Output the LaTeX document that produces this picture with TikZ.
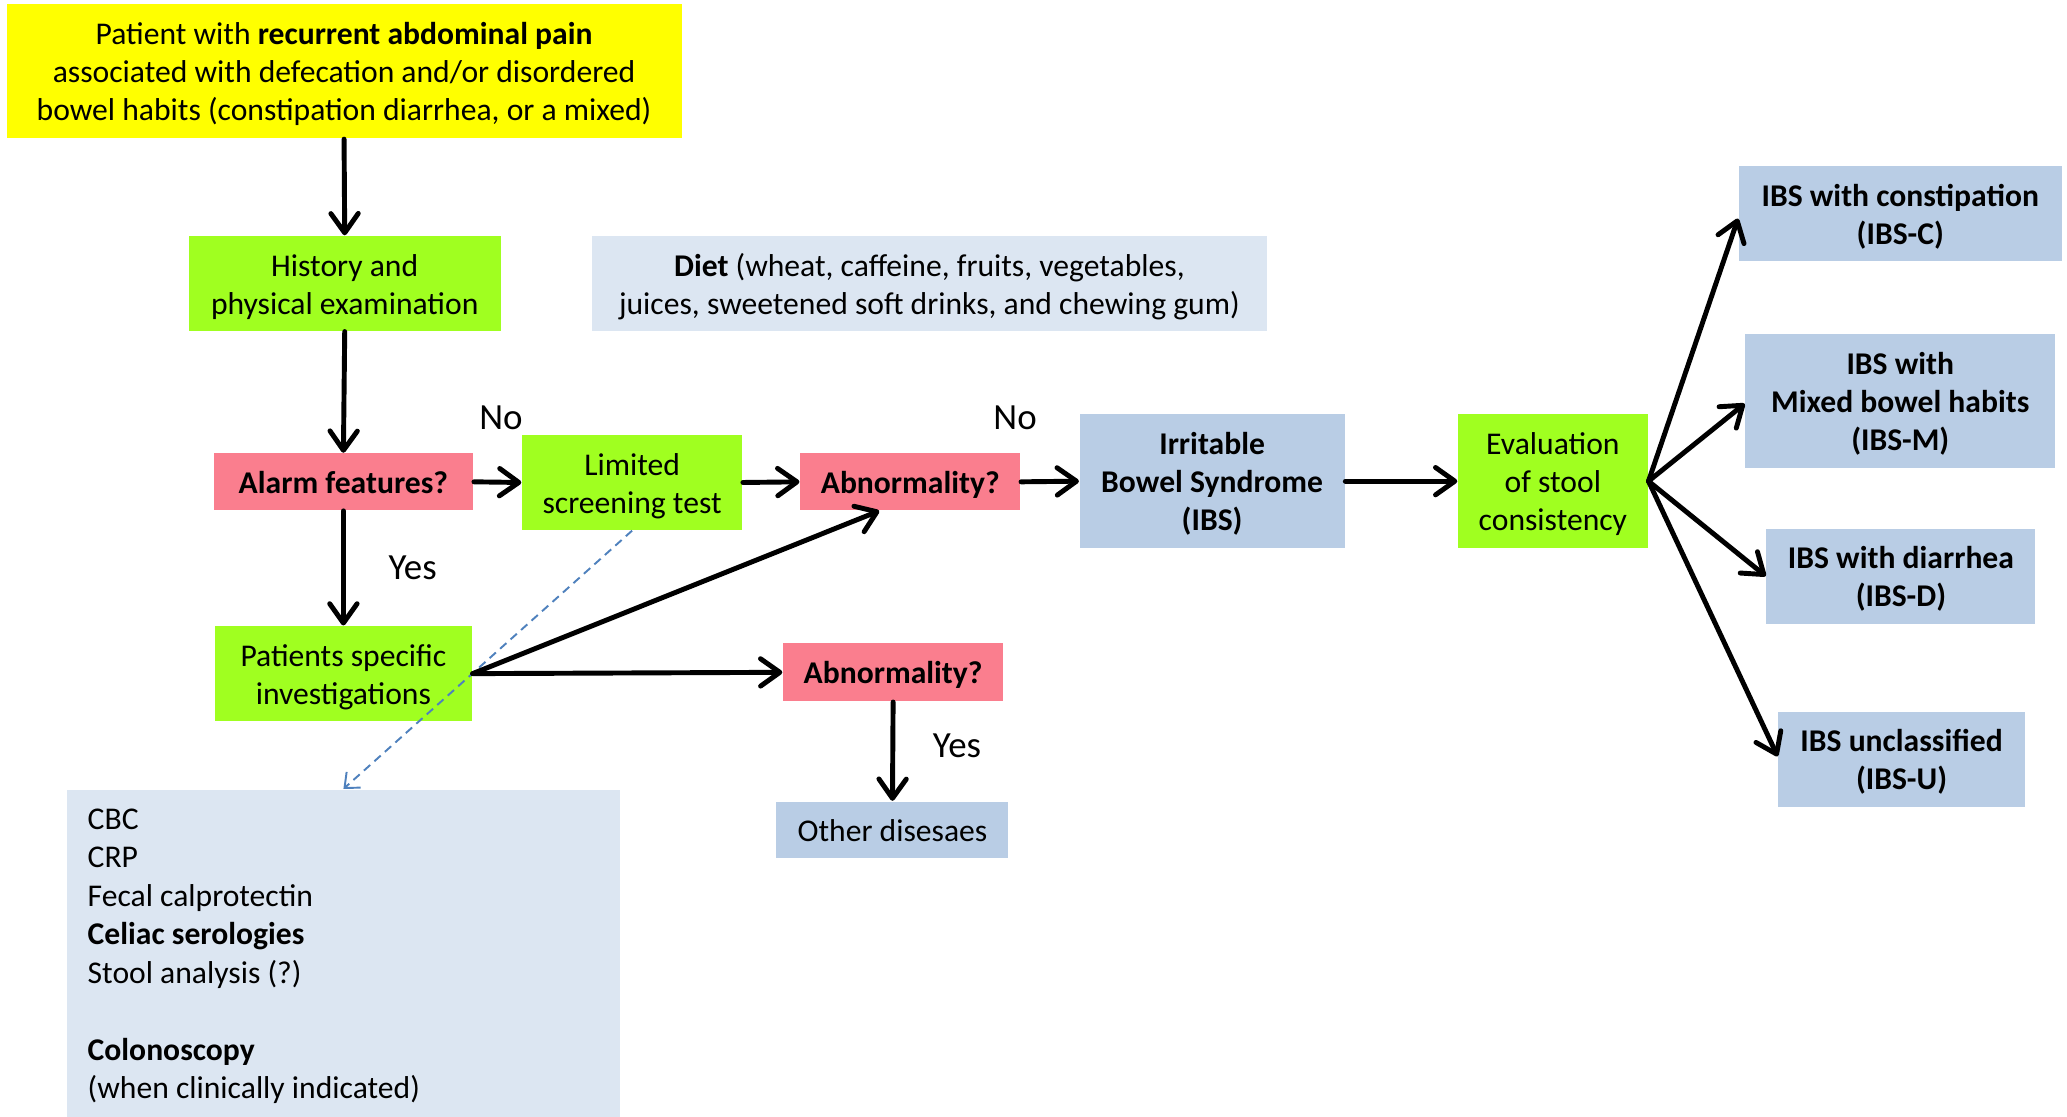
\documentclass[tikz,border=0pt]{standalone}
\usepackage{fontspec}
\setmainfont{Carlito}
\usetikzlibrary{arrows.meta}
\definecolor{yel}{RGB}{255,255,0}
\definecolor{grn}{RGB}{160,255,32}
\definecolor{pnk}{RGB}{250,126,142}
\definecolor{lblue}{RGB}{185,205,229}
\definecolor{pblue}{RGB}{220,230,242}
\definecolor{dashblue}{RGB}{79,129,189}
\begin{document}
\begin{tikzpicture}[x=0.013183cm, y=-0.013183cm,
  font=\fontsize{9}{10.8}\selectfont,
  box/.style={rectangle, inner sep=0pt, align=center, text=black, text height=8.9pt, text depth=2.3pt},
  twolines/.style={text height=19.7pt},
  threelines/.style={text height=30.5pt},
  yelbox/.style={box, fill=yel},
  grnbox/.style={box, fill=grn},
  pnkbox/.style={box, fill=pnk, font=\fontsize{9}{10.8}\selectfont\bfseries},
  bluebox/.style={box, fill=lblue},
  ibsbox/.style={box, fill=lblue, font=\fontsize{9}{10.8}\selectfont\bfseries},
  palebox/.style={rectangle, inner sep=0pt, fill=pblue},
  palebox2/.style={box, fill=pblue},
  flow/.style={draw=black, line width=1.4pt, line cap=round, -{Straight Barb[length=5.5pt,width=7.8pt,round]}},
  dashlink/.style={draw=dashblue, line width=0.55pt, dash pattern=on 2.4pt off 1.6pt, -{Straight Barb[length=3.5pt,width=6pt]}},
  lbl/.style={inner sep=0pt, font=\fontsize{10.5}{12.6}\selectfont}
]
\useasboundingbox (0,0) rectangle (1568,847);

% nodes
\node[yelbox, threelines, minimum width=6.75cm, minimum height=1.345cm] (start) at (261,54)
  {Patient with \textbf{recurrent abdominal pain}\\associated with defecation and/or disordered\\bowel habits (constipation diarrhea, or a mixed)};
\node[grnbox, twolines, minimum width=3.124cm, minimum height=0.949cm] (hist) at (261.5,215)
  {History and\\physical examination};
\node[palebox2, twolines, minimum width=6.75cm, minimum height=0.949cm] (diet) at (705,215)
  {\textbf{Diet} (wheat, caffeine, fruits, vegetables,\\juices, sweetened soft drinks, and chewing gum)};
\node[pnkbox, minimum width=2.597cm, minimum height=0.567cm] (alarm) at (260.5,365.5)
  {Alarm features?};
\node[grnbox, twolines, minimum width=2.202cm, minimum height=0.949cm] (limited) at (479.5,366)
  {Limited\\screening test};
\node[pnkbox, minimum width=2.202cm, minimum height=0.567cm] (abnA) at (690.5,365.5)
  {Abnormality?};
\node[ibsbox, threelines, minimum width=2.65cm, minimum height=1.345cm] (ibs) at (919.5,365)
  {Irritable\\Bowel Syndrome\\(IBS)};
\node[grnbox, threelines, minimum width=1.898cm, minimum height=1.345cm] (eval) at (1178,365)
  {Evaluation\\of stool\\consistency};
\node[ibsbox, twolines, minimum width=3.23cm, minimum height=0.949cm] (ibsc) at (1441.5,162)
  {IBS with constipation\\(IBS-C)};
\node[ibsbox, threelines, minimum width=3.098cm, minimum height=1.345cm] (ibsm) at (1441.5,304)
  {IBS with\\Mixed bowel habits\\(IBS-M)};
\node[ibsbox, twolines, minimum width=2.689cm, minimum height=0.949cm] (ibsd) at (1442,437)
  {IBS with diarrhea\\(IBS-D)};
\node[ibsbox, twolines, minimum width=2.465cm, minimum height=0.949cm] (ibsu) at (1442.5,576)
  {IBS unclassified\\(IBS-U)};
\node[grnbox, twolines, minimum width=2.571cm, minimum height=0.949cm] (pat) at (260.5,511)
  {Patients specific\\investigations};
\node[pnkbox, minimum width=2.202cm, minimum height=0.58cm] (abnB) at (677.5,510)
  {Abnormality?};
\node[bluebox, minimum width=2.32cm, minimum height=0.567cm] (other) at (677,629.5)
  {Other disesaes};
\node[palebox, minimum width=5.524cm, minimum height=3.269cm] (tests) at (260.5,723)
  {};
\node[inner sep=0pt, anchor=north west, align=left, font=\fontsize{9}{10.95}\selectfont] (testlist) at (66,613)
  {CBC\\CRP\\Fecal calprotectin\\\textbf{Celiac serologies}\\Stool analysis (?)\\[10.95pt]\textbf{Colonoscopy}\\(when clinically indicated)};

% labels
\node[lbl] (noA) at (380,317) {No};
\node[lbl] (noB) at (770,317) {No};
\node[lbl] (yesA) at (313,431) {Yes};
\node[lbl] (yesB) at (726,566) {Yes};

% connectors
\draw[dashlink] (limited.south) -- (tests.north);
\draw[flow] (start.south) -- (hist.north);
\draw[flow] (hist.south) -- (alarm.north);
\draw[flow] (alarm.east) -- (limited.west);
\draw[flow] (limited.east) -- (abnA.west);
\draw[flow] (abnA.east) -- (ibs.west);
\draw[flow] (ibs.east) -- (eval.west);
\draw[flow] (alarm.south) -- (pat.north);
\draw[flow] (pat.east) -- ([xshift=-0.31cm]abnA.south);
\draw[flow] (pat.east) -- (abnB.west);
\draw[flow] (abnB.south) -- (other.north);
\draw[flow] (eval.east) -- ([yshift=-0.05cm]ibsc.west);
\draw[flow] (eval.east) -- ([yshift=-0.03cm]ibsm.west);
\draw[flow] (eval.east) -- (ibsd.west);
\draw[flow] (eval.east) -- ([yshift=0.03cm]ibsu.west);
\end{tikzpicture}
\end{document}
